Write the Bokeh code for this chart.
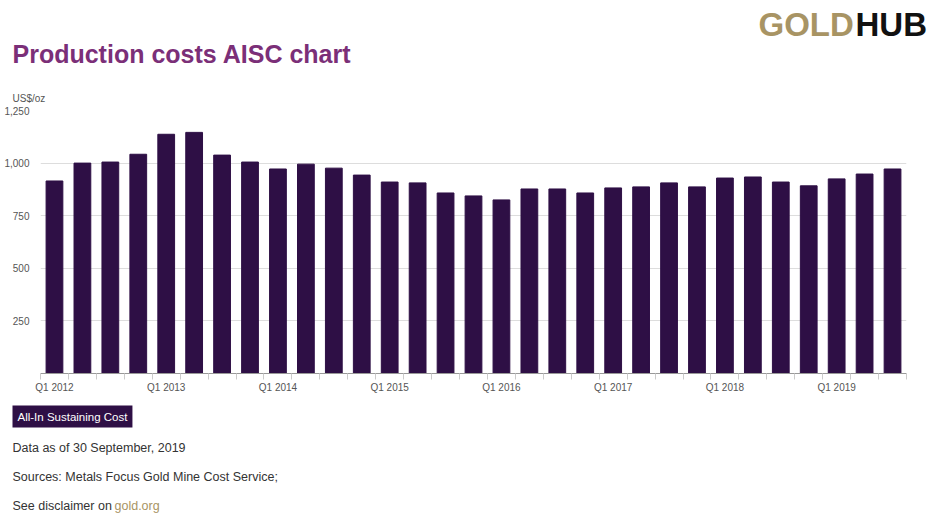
from bokeh.plotting import figure
from bokeh.models import FixedTicker, Label, NumeralTickFormatter, Range1d
from bokeh.layouts import column, row
from bokeh.embed import file_html
from bokeh.resources import INLINE

quarters = [f"Q{q} {y}" for y in range(2012, 2020) for q in range(1, 5)][:31]
aisc = [915, 1000, 1005, 1042, 1137, 1146, 1038, 1005, 972, 995, 976, 943, 910, 906,
        858, 844, 825, 877, 877, 858, 882, 887, 906, 887, 929, 934, 910, 892, 925, 948, 972]
y_ticks = [250, 500, 750, 1000, 1250]

W = 929
HEAD, MAIN_BOT = 104, 395
FL, FR = 40, 906

def blank(h):
    f = figure(width=W, height=h, output_backend="svg", toolbar_location=None,
               x_range=Range1d(0, W), y_range=Range1d(h, 0),
               min_border=0, min_border_left=0, min_border_right=0,
               min_border_top=0, min_border_bottom=0)
    f.axis.visible = False
    f.grid.visible = False
    f.outline_line_color = None
    return f

def lab(f, text, px, py, size, color, style="normal", bg=None):
    l = Label(x=px, y=py, text=text, text_font="Liberation Sans", text_font_size=size,
              text_color=color, text_font_style=style, text_baseline="middle", text_align="left")
    if bg:
        l.background_fill_color = bg
        l.padding = 5
    f.add_layout(l)

head = blank(HEAD)
lab(head, "Production costs AISC chart", 12, 53, "25px", "#7b2f78", "bold")
lab(head, "GOLD", 758, 24, "33px", "#a89464", "bold")
lab(head, "HUB", 855, 24, "33px", "#111111", "bold")
lab(head, "US$/oz", 12, 98, "10px", "#555555")

MH = MAIN_BOT - HEAD
p = figure(width=W, height=MH, output_backend="svg", toolbar_location=None,
           x_range=(-0.5, len(aisc) - 0.5), y_range=(0, 1250),
           min_border_left=FL, min_border_right=W - FR, min_border_top=110 - HEAD,
           min_border_bottom=MAIN_BOT - 374)
p.outline_line_color = None
xs = list(range(len(aisc)))
p.vbar(x=xs, top=aisc, width=0.6, color="#2e0f45")

p.xaxis.ticker = FixedTicker(ticks=[i for i in xs if i % 4 == 0],
                             minor_ticks=[i - 0.5 for i in range(len(aisc) + 1)])
p.xaxis.major_label_overrides = {i: quarters[i] for i in xs if i % 4 == 0}
p.xaxis.major_tick_line_color = None
p.xaxis.minor_tick_out = 6
p.xaxis.minor_tick_in = 0
p.xaxis.minor_tick_line_color = "#cccccc"
p.xaxis.axis_line_color = "#999999"
p.xaxis.major_label_standoff = 2
p.xaxis.major_label_text_font = "Liberation Sans"
p.xaxis.major_label_text_font_size = "10px"
p.xaxis.major_label_text_color = "#555555"
p.xgrid.grid_line_color = None

p.yaxis.ticker = FixedTicker(ticks=y_ticks)
p.yaxis.formatter = NumeralTickFormatter(format="0,0")
p.yaxis.axis_line_color = None
p.yaxis.major_tick_line_color = None
p.yaxis.minor_tick_line_color = None
p.yaxis.major_label_text_font = "Liberation Sans"
p.yaxis.major_label_text_font_size = "10px"
p.yaxis.major_label_text_color = "#555555"
p.ygrid.grid_line_color = "#dddddd"

FH = 517 - MAIN_BOT
foot = blank(FH)
o = MAIN_BOT
lab(foot, "All-In Sustaining Cost", 12, 416 - o, "11.5px", "#ffffff", bg="#2e0f45")
lab(foot, "Data as of 30 September, 2019", 12, 447 - o, "12.5px", "#333333")
lab(foot, "Sources: Metals Focus Gold Mine Cost Service;", 12, 476 - o, "12.5px", "#333333")
lab(foot, "See disclaimer on", 12, 505 - o, "12.5px", "#333333")
lab(foot, "gold.org", 114, 505 - o, "12.5px", "#a89464")

layout = column(head, row(p), foot, spacing=0)
open("out.html", "w").write(file_html(layout, INLINE))
